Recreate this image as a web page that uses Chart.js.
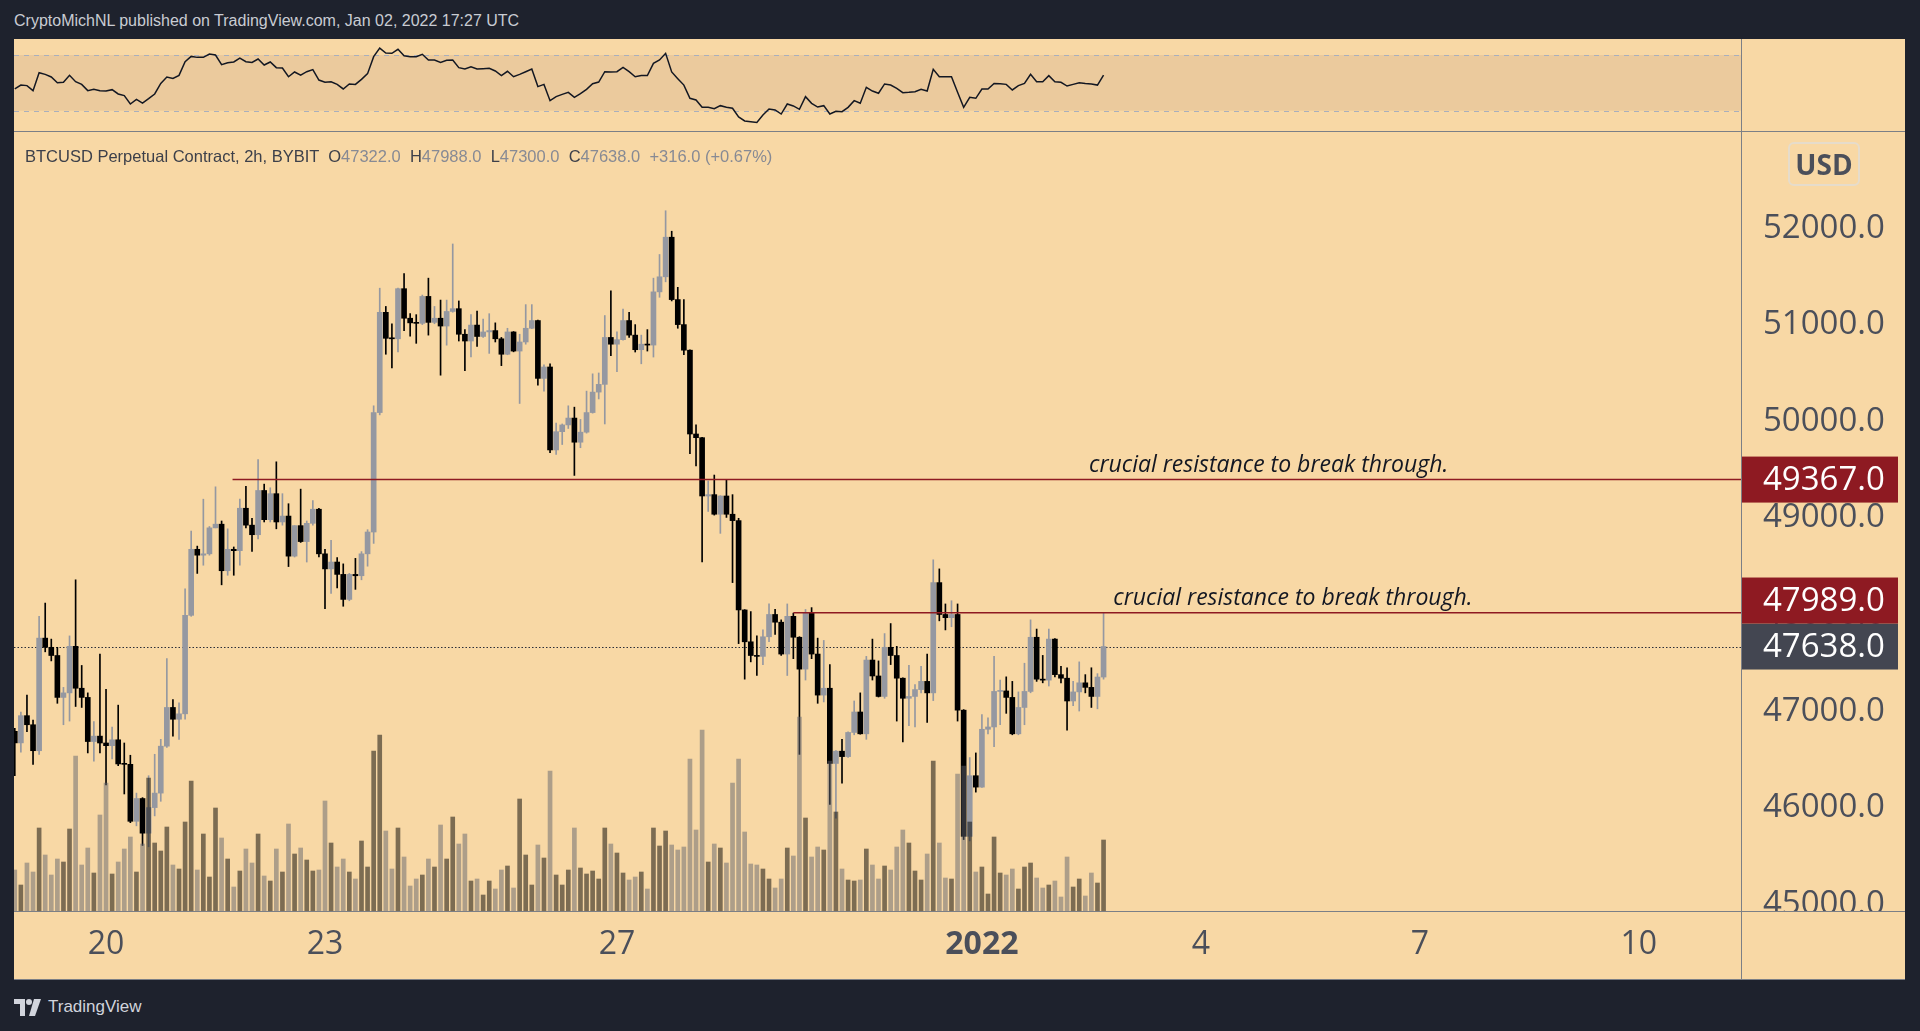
<!DOCTYPE html>
<html>
<head>
<meta charset="utf-8">
<script src="https://cdn.jsdelivr.net/npm/chart.js@4.4.1/dist/chart.umd.min.js"></script>
<style>
  html, body { margin: 0; padding: 0; width: 1920px; height: 1031px; overflow: hidden; background: #1e222d; font-family: "Liberation Sans", Arial, sans-serif; }
  #header { position: absolute; left: 14px; top: 12px; color: #c9ccd3; font-size: 16px; }
  #panel { position: absolute; left: 14px; top: 39px; width: 1891px; height: 941px; background: #f8d8a5; }
  #panel canvas { position: absolute; left: 0; }
  #rsi { top: 0; }
  #main { top: 92px; }
  .line { position: absolute; background: #7c7f86; }
  #legend { position: absolute; left: 11px; top: 108px; font-size: 16.5px; color: #3d404a; white-space: pre; }
  #legend .v { color: #878a94; }
  #usd { position: absolute; left: 1774px; top: 103px; width: 68px; height: 40px; border: 2px solid #e6dccb; border-radius: 6px; color: #4b4f5a; font: bold 28px "Open Sans", sans-serif; text-align: center; line-height: 40px; }
  #footer { position: absolute; left: 14px; top: 997px; color: #d1d4dc; font-size: 17px; display: flex; align-items: center; gap: 6px; }
</style>
</head>
<body>
<div id="header">CryptoMichNL published on TradingView.com, Jan 02, 2022 17:27 UTC</div>
<div id="panel">
  <canvas id="rsi" width="1891" height="92"></canvas>
  <canvas id="main" width="1891" height="849"></canvas>
  <div class="line" style="left:0;top:92px;width:1891px;height:1px"></div>
  <div class="line" style="left:1727px;top:0;width:1px;height:941px"></div>
  <div class="line" style="left:0;top:872px;width:1891px;height:1px"></div>
  <div class="line" style="left:0;top:940px;width:1891px;height:1px"></div>
  <div id="legend"></div>
  <div id="usd">USD</div>
</div>
<div id="footer">
  <svg width="28" height="17" viewBox="0 0 28 17"><path d="M0 0h11v17H6V5H0z" fill="#d1d4dc"/><circle cx="15" cy="3" r="3" fill="#d1d4dc"/><path d="M20 0h7l-6 17h-6z" fill="#d1d4dc"/></svg>
  <span>TradingView</span>
</div>
<script>
// BTCUSD Perpetual, 2h candles, first one Dec 18 18:00 UTC, last Jan 02 16:00 UTC
const opens = [
  46760,46640,46922,46828,46559,47725,47630,47545,47111,47158,
  47640,47206,47111,46654,46710,46639,46611,46672,46422,46418,
  45828,46064,45705,45970,46120,46606,47007,46885,46941,47961,
  48645,48584,48598,48867,48905,48423,48645,48631,49070,48895,
  48796,49254,48952,49221,48928,48989,48574,48890,48725,48914,
  49060,48598,48442,48513,48385,48126,48385,48371,48598,48824,
  50061,51099,50830,50825,51344,51038,50990,50985,51264,50995,
  51038,50957,51108,51137,50872,50802,50967,50849,50896,50910,
  50825,50665,50896,50698,50792,50934,51014,50415,50533,49674,
  49863,49933,50004,49754,49858,50061,50273,50353,50839,50769,
  50816,51014,50863,50712,50769,50760,51311,51467,51877,51231,
  50972,50707,49839,49801,49197,49211,49008,49197,49008,48942,
  48017,47687,47545,47536,47739,47970,47890,47560,47951,47734,
  47404,47984,47560,47135,47206,46427,46554,46498,46748,46960,
  46734,47498,47333,47121,47630,47545,47310,47102,47121,47192,
  47277,47158,48300,47970,47937,47970,46979,45672,46300,46182,
  46781,46805,47173,47178,47111,46734,47007,47173,47734,47300,
  47290,47715,47347,47310,47074,47168,47262,47215,47121,47322
];
const highs = [
  46790,46960,47135,46875,47951,48088,47715,47630,47215,47748,
  48329,47442,47158,46861,47560,47196,46805,47031,46639,46512,
  46120,46073,46300,46522,46677,47512,47088,47055,48235,48834,
  48678,49164,48881,49292,48938,48857,48669,49164,49296,48966,
  49575,49320,49282,49551,49221,49117,48890,49268,48938,49150,
  49070,48645,48739,48560,48494,48395,48551,48621,48848,50131,
  51349,51160,50981,51350,51500,51085,51075,51278,51453,51160,
  51226,51226,51807,51217,50920,51075,51113,51028,51085,50990,
  50839,50934,50900,50872,51179,51179,51020,50556,50566,49952,
  49943,50131,50117,49990,50283,50462,50471,51066,51321,50896,
  51132,51099,50972,50863,50920,51453,51698,52151,51939,51358,
  51231,50712,49933,49805,49353,49414,49200,49362,49211,48966,
  48020,48000,47748,47810,48079,48022,47914,48079,47984,47740,
  48022,48041,47725,47701,47451,46560,46677,46755,47074,47158,
  47536,47715,47489,47772,47876,47640,47315,47442,47243,47432,
  47560,48536,48442,48079,48112,48079,46985,46488,46536,46932,
  46899,47536,47291,47324,47277,47168,47465,47914,47819,47546,
  47819,47720,47432,47418,47277,47479,47347,47418,47357,47988
];
const lows = [
  46300,46545,46757,46418,46521,47583,47489,47050,46828,46866,
  47017,47007,46536,46451,46536,46205,46474,46404,46111,45814,
  45781,45578,45564,45884,46035,46592,46710,46677,46885,47951,
  48395,48480,48584,48867,48277,48376,48376,48480,48867,48622,
  48753,48928,48928,48857,48895,48466,48565,48716,48513,48895,
  48565,48031,48187,48244,48055,48112,48230,48329,48470,48706,
  50037,50665,50523,50688,50910,50853,50778,50972,50863,50981,
  50448,50759,51100,50802,50495,50636,50745,50839,50674,50792,
  50547,50660,50690,50155,50769,50930,50344,50283,49645,49627,
  49730,49896,49410,49697,49848,50055,50202,49943,50651,50485,
  50810,50839,50688,50566,50698,50636,51255,51415,51217,50934,
  50660,49636,49509,48513,49037,48999,48810,48975,48300,47668,
  47300,47479,47338,47451,47687,47763,47546,47338,47512,46521,
  47291,47512,47050,47064,46002,45861,46224,46490,46724,46730,
  46677,47291,47115,47102,47451,46866,46649,46819,46805,47158,
  46852,47078,47904,47810,47843,46866,45639,45625,46130,46180,
  46734,46602,46828,46946,46724,46724,46828,47159,47277,47262,
  47229,47324,47262,46772,47026,46970,47158,47007,46993,47300
];
const closes = [
  46640,46922,46828,46559,47725,47630,47545,47111,47158,47640,
  47206,47111,46654,46710,46639,46611,46672,46422,46418,45828,
  46064,45705,45970,46120,46606,47007,46885,46941,47961,48645,
  48584,48598,48867,48905,48423,48645,48631,49070,48895,48796,
  49254,48952,49221,48928,48989,48574,48890,48725,48914,49060,
  48598,48442,48513,48385,48126,48385,48371,48598,48824,50061,
  51099,50830,50825,51344,51038,50990,50985,51264,50995,51038,
  50957,51108,51137,50872,50802,50967,50849,50896,50910,50825,
  50665,50896,50698,50792,50934,51014,50415,50533,49674,49863,
  49933,50004,49754,49858,50061,50273,50353,50839,50769,50816,
  51014,50863,50712,50769,50760,51311,51467,51877,51231,50972,
  50707,49839,49801,49197,49211,49008,49197,49008,48942,48017,
  47687,47545,47536,47739,47970,47890,47560,47951,47734,47404,
  47984,47560,47135,47206,46427,46554,46498,46748,46960,46734,
  47498,47333,47121,47630,47545,47310,47102,47121,47192,47277,
  47158,48300,47970,47937,47970,46979,45672,46300,46182,46781,
  46805,47173,47178,47111,46734,47007,47173,47734,47300,47290,
  47715,47347,47310,47074,47168,47262,47215,47121,47322,47638
];
const volumes = [
  41,26,48,39,83,56,36,52,49,82,
  155,46,63,38,96,128,37,49,62,74,
  39,67,133,68,60,84,46,42,89,130,
  41,77,34,103,73,52,24,40,62,48,
  77,35,30,62,39,87,57,63,51,40,
  41,110,68,44,52,39,32,70,44,160,
  176,80,42,83,54,25,32,36,52,44,
  86,52,94,67,77,30,32,16,30,22,
  41,45,23,112,56,26,66,53,140,36,
  26,41,83,43,37,40,32,83,67,58,
  38,31,34,39,22,83,65,80,66,61,
  64,152,81,181,49,67,63,48,128,152,
  79,47,46,42,32,23,32,63,55,194,
  93,54,64,61,150,99,42,31,30,31,
  62,46,32,45,41,64,81,68,40,31,
  57,150,68,33,32,137,145,89,39,44,
  17,74,38,36,42,22,44,48,33,23,
  26,30,14,54,24,32,15,38,28,71
];
const rsi = [
  45.6,48.4,48.0,44.4,57.3,56.1,54.2,50.1,50.4,55.4,
  50.8,48.9,44.4,45.3,44.4,44.1,45.1,42.0,40.8,34.8,
  38.1,35.5,38.6,42.0,49.6,54.2,53.2,55.4,65.2,69.0,
  68.3,68.3,70.7,70.0,63.1,64.5,65.0,67.8,65.2,64.7,
  67.1,62.8,65.0,60.9,60.7,54.4,57.8,55.6,58.0,59.5,
  52.0,50.4,50.8,48.9,45.6,49.2,48.9,52.5,56.6,68.8,
  75.0,71.4,71.2,74.1,69.5,68.8,68.8,70.5,66.4,66.4,
  64.7,66.2,66.4,60.9,59.9,61.6,59.9,60.2,60.4,58.5,
  55.2,58.3,54.4,56.1,58.0,59.9,47.3,48.9,37.2,40.1,
  41.7,43.2,39.6,42.2,45.3,49.4,50.6,58.0,57.8,58.0,
  61.1,58.0,54.4,55.2,55.2,64.0,66.4,71.2,57.8,53.0,
  48.4,38.9,37.7,32.4,32.4,31.4,33.6,32.4,31.7,25.5,
  22.6,22.1,21.6,26.9,31.2,30.5,27.6,34.8,33.4,31.0,
  40.1,35.3,32.6,33.6,27.6,29.5,29.3,32.4,37.2,35.3,
  46.8,44.1,42.5,49.2,48.4,46.0,42.9,43.2,43.6,45.3,
  44.1,59.7,54.4,54.4,54.4,43.2,32.4,39.6,38.9,45.6,
  45.6,49.6,49.4,48.9,44.9,48.0,49.6,56.1,50.8,50.8,
  55.2,50.8,50.4,47.7,48.9,50.1,49.6,49.2,48.4,55.6
];

// x axis: bar index, day ticks
const tickValues = [15, 51, 99, 159, 195, 231, 267];
const tickLabels = ['20', '23', '27', '2022', '4', '7', '10'];
const priceTicks = [45000, 46000, 47000, 48000, 49000, 50000, 51000, 52000];
const rsiBands = [30, 70];

// drawn resistance levels (value, first bar index, note)
const levelValues = [49367, 47989];
const levelStarts = [35.8, 128];
const levelNotes = ['crucial resistance to break through.', 'crucial resistance to break through.'];
const noteStarts = [176.6, 180.6];

const X_MIN = -0.13, X_MAX = 283.8;
const UP = '#9598a1', DOWN = '#000000';
const VOL_UP = 'rgba(0,0,0,0.5)', VOL_DOWN = 'rgba(98,100,110,0.5)';
const LEVEL_COLOR = '#8e1a22', LAST_COLOR = '#434651';
const AXIS_TEXT = '#4b4f5a';
const PANEL_BG = '#f8d8a5';

const last = closes.length - 1;
const isUp = i => closes[i] >= opens[i];

// legend line
const chg = closes[last] - closes[last - 1];
document.getElementById('legend').innerHTML =
  'BTCUSD Perpetual Contract, 2h, BYBIT  O<span class="v">' + opens[last].toFixed(1) +
  '</span>  H<span class="v">' + highs[last].toFixed(1) +
  '</span>  L<span class="v">' + lows[last].toFixed(1) +
  '</span>  C<span class="v">' + closes[last].toFixed(1) +
  '</span>  <span class="v">+' + chg.toFixed(1) + ' (+' + (chg / closes[last - 1] * 100).toFixed(2) + '%)</span>';

const noPad = s => { s.paddingTop = 0; s.paddingBottom = 0; s.paddingLeft = 0; s.paddingRight = 0; };

const rsiBandPlugin = {
  id: 'rsiBand',
  beforeDatasetsDraw(chart) {
    const { ctx, chartArea: a, scales: { y } } = chart;
    const y1 = y.getPixelForValue(rsiBands[1]), y0 = y.getPixelForValue(rsiBands[0]);
    ctx.save();
    ctx.fillStyle = '#ebca9d';
    ctx.fillRect(a.left, y1, a.right - a.left, y0 - y1);
    ctx.strokeStyle = '#a9afbd';
    ctx.lineWidth = 1;
    ctx.setLineDash([5, 5]);
    [y0, y1].forEach(py => {
      ctx.beginPath();
      ctx.moveTo(a.left, Math.round(py) + 0.5);
      ctx.lineTo(a.right, Math.round(py) + 0.5);
      ctx.stroke();
    });
    ctx.restore();
  }
};

const levelsPlugin = {
  id: 'levels',
  beforeDatasetsDraw(chart) {
    const { ctx, chartArea: a, scales: { y } } = chart;
    const py = Math.round(y.getPixelForValue(closes[last])) + 0.5;
    ctx.save();
    ctx.strokeStyle = '#2a2e39';
    ctx.lineWidth = 1;
    ctx.setLineDash([1.5, 2]);
    ctx.beginPath();
    ctx.moveTo(a.left, py);
    ctx.lineTo(a.right, py);
    ctx.stroke();
    ctx.restore();
  },
  afterDatasetsDraw(chart) {
    const { ctx, chartArea: a, scales: { x, y } } = chart;
    ctx.save();
    levelValues.forEach((v, i) => {
      const py = y.getPixelForValue(v);
      ctx.strokeStyle = LEVEL_COLOR;
      ctx.lineWidth = 1.5;
      ctx.beginPath();
      ctx.moveTo(x.getPixelForValue(levelStarts[i]), py);
      ctx.lineTo(a.right, py);
      ctx.stroke();
      ctx.fillStyle = '#131722';
      ctx.font = 'italic 23px "Open Sans", sans-serif';
      ctx.textBaseline = 'alphabetic';
      ctx.textAlign = 'left';
      ctx.fillText(levelNotes[i], x.getPixelForValue(noteStarts[i]), py - 8);
    });
    ctx.restore();
  },
  afterDraw(chart) {
    const { ctx, chartArea: a, scales: { y } } = chart;
    ctx.save();
    // price scale labels are cut off at the time axis
    ctx.fillStyle = PANEL_BG;
    ctx.fillRect(a.right, a.bottom, chart.width - a.right, chart.height - a.bottom);
    const boxes = levelValues.map(v => ({ v, c: LEVEL_COLOR }));
    boxes.push({ v: closes[last], c: LAST_COLOR });
    boxes.forEach(b => { b.py = y.getPixelForValue(b.v); });
    boxes.sort((p, q) => q.py - p.py);
    const h = 46;
    let prevTop = Infinity;
    boxes.forEach(b => {
      let top = b.py - h / 2;
      if (top + h > prevTop) top = prevTop - h;
      ctx.fillStyle = b.c;
      ctx.fillRect(a.right, top, 157, h);
      ctx.fillStyle = '#ffffff';
      ctx.font = '33px "Open Sans", sans-serif';
      ctx.textBaseline = 'middle';
      ctx.textAlign = 'left';
      ctx.fillText(b.v.toFixed(1), a.right + 22, top + h / 2 + 1);
      prevTop = top;
    });
    ctx.restore();
  }
};

const idx = closes.map((_, i) => i);

new Chart(document.getElementById('rsi'), {
  type: 'line',
  data: {
    datasets: [{
      data: idx.map(i => ({ x: i, y: rsi[i] })),
      borderColor: '#131722',
      borderWidth: 1.5,
      pointRadius: 0,
      tension: 0
    }]
  },
  options: {
    responsive: false,
    animation: false,
    events: [],
    layout: { padding: 0 },
    scales: {
      x: { type: 'linear', min: X_MIN, max: X_MAX, display: false },
      y: {
        position: 'right', min: 15.4, max: 81.5,
        afterFit: s => { s.width = 164; noPad(s); },
        grid: { display: false, drawTicks: false },
        border: { display: false },
        ticks: { display: false }
      }
    },
    plugins: { legend: { display: false }, tooltip: { enabled: false } }
  },
  plugins: [rsiBandPlugin]
});

new Chart(document.getElementById('main'), {
  type: 'bar',
  data: {
    datasets: [
      {
        label: 'Volume',
        yAxisID: 'yv',
        order: 0,
        data: idx.map(i => ({ x: i, y: volumes[i] })),
        backgroundColor: ctx => isUp(ctx.dataIndex) ? VOL_UP : VOL_DOWN,
        barThickness: 4,
        grouped: false
      },
      {
        label: 'Body',
        order: 1,
        data: idx.map(i => ({ x: i, y: [opens[i], closes[i]] })),
        backgroundColor: ctx => isUp(ctx.dataIndex) ? UP : DOWN,
        barThickness: 5,
        minBarLength: 1,
        grouped: false
      },
      {
        label: 'Wick',
        order: 2,
        data: idx.map(i => ({ x: i, y: [lows[i], highs[i]] })),
        backgroundColor: ctx => isUp(ctx.dataIndex) ? UP : DOWN,
        barThickness: 1,
        grouped: false
      }
    ]
  },
  options: {
    responsive: false,
    animation: false,
    events: [],
    layout: { padding: 0 },
    scales: {
      x: {
        type: 'linear', min: X_MIN, max: X_MAX, offset: false,
        afterFit: s => { s.height = 69; noPad(s); },
        afterBuildTicks: s => { s.ticks = tickValues.map(v => ({ value: v })); },
        grid: { display: false, drawTicks: false },
        border: { display: false },
        ticks: {
          autoSkip: false, maxRotation: 0, padding: 15, color: AXIS_TEXT,
          font: ctx => ({ family: 'Open Sans', size: 32, weight: ctx.tick && ctx.tick.value === 159 ? 'bold' : 'normal' }),
          callback: v => tickLabels[tickValues.indexOf(v)]
        }
      },
      y: {
        position: 'right', min: 44899, max: 52977,
        afterFit: s => { s.width = 164; noPad(s); },
        afterBuildTicks: s => { s.ticks = priceTicks.map(v => ({ value: v })); },
        grid: { display: false, drawTicks: false },
        border: { display: false },
        ticks: { color: AXIS_TEXT, padding: 22, labelOffset: 3, font: { family: 'Open Sans', size: 33 }, callback: v => v.toFixed(1) }
      },
      yv: { display: false, min: 0, max: 780 }
    },
    plugins: { legend: { display: false }, tooltip: { enabled: false } }
  },
  plugins: [levelsPlugin]
});
</script>
</body>
</html>
